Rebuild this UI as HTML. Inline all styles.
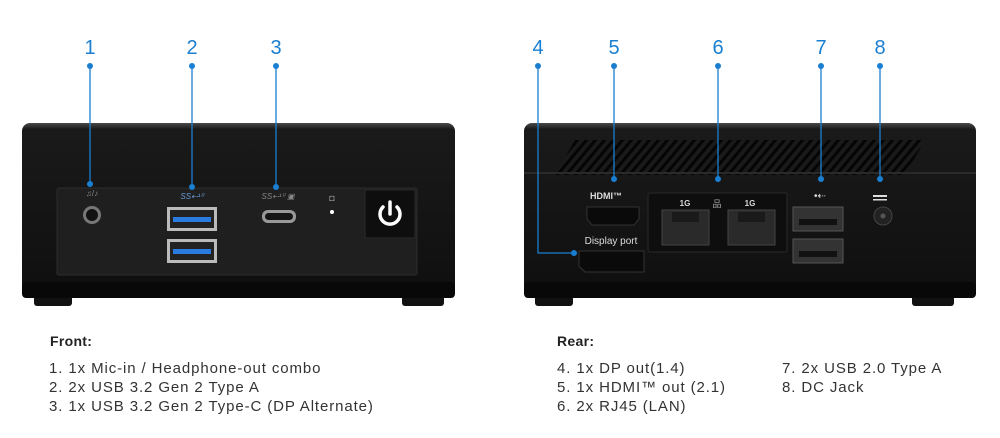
<!DOCTYPE html>
<html><head><meta charset="utf-8"><style>
body{margin:0;background:#fff;width:1000px;height:438px;overflow:hidden;position:relative;font-family:"Liberation Sans",sans-serif}
.t{position:absolute;color:#333;font-size:15px;letter-spacing:0.9px;line-height:19px;white-space:nowrap}
.h{font-size:14px;color:#222;letter-spacing:0.3px;font-weight:bold}
</style></head><body>
<svg width="1000" height="320" style="position:absolute;left:0;top:0">
<defs>
<linearGradient id="bd" x1="0" y1="0" x2="0" y2="1"><stop offset="0" stop-color="#4a4a4a"/><stop offset="0.035" stop-color="#1a1a1a"/><stop offset="1" stop-color="#0f0f0f"/></linearGradient>
<pattern id="vent" width="9" height="40" patternUnits="userSpaceOnUse" patternTransform="skewX(-40)"><rect width="9" height="40" fill="#1a1a1a"/><rect x="0" width="4" height="40" fill="#050505"/></pattern>
</defs>
<!-- FRONT -->
<rect x="34" y="290" width="38" height="16" rx="3" fill="#111"/>
<rect x="402" y="290" width="42" height="16" rx="3" fill="#111"/>
<rect x="22" y="123" width="433" height="175" rx="8" fill="url(#bd)"/>
<rect x="22" y="282" width="433" height="16" rx="4" fill="#080808"/>
<rect x="57" y="188" width="360" height="87" rx="2" fill="#1f1f1f" stroke="#2c2c2c"/>
<circle cx="92" cy="215" r="9" fill="#777"/><circle cx="92" cy="215" r="6" fill="#111"/>
<text x="92" y="196" fill="#888" font-size="8" text-anchor="middle">♫/♪</text>
<rect x="167" y="207" width="50" height="24" fill="#bbb"/><rect x="170" y="210" width="44" height="18" fill="#222"/><rect x="173" y="217" width="38" height="5" fill="#2a7be0"/>
<rect x="167" y="239" width="50" height="24" fill="#bbb"/><rect x="170" y="242" width="44" height="18" fill="#222"/><rect x="173" y="249" width="38" height="5" fill="#2a7be0"/>
<text x="192" y="199" fill="#6a9ed8" font-size="8" font-style="italic" text-anchor="middle">SS⇠¹⁰</text>
<text x="278" y="199" fill="#888" font-size="8" font-style="italic" text-anchor="middle">SS⇠¹⁰ ▣</text>
<rect x="262" y="210" width="34" height="13" rx="6" fill="#999"/><rect x="265" y="213" width="28" height="7" rx="3.5" fill="#151515"/>
<circle cx="332" cy="212" r="2" fill="#fff"/><text x="332" y="201" fill="#888" font-size="9" text-anchor="middle">◘</text>
<rect x="365" y="190" width="50" height="48" fill="#0e0e0e" stroke="#2a2a2a"/>
<path d="M383 207 A10 10 0 1 0 397 207" stroke="#fff" stroke-width="3.5" fill="none" stroke-linecap="round"/><line x1="390" y1="202" x2="390" y2="214" stroke="#fff" stroke-width="3.5" stroke-linecap="round"/>
<!-- REAR -->
<rect x="535" y="290" width="38" height="16" rx="3" fill="#111"/>
<rect x="912" y="290" width="42" height="16" rx="3" fill="#111"/>
<rect x="524" y="123" width="452" height="175" rx="8" fill="url(#bd)"/>
<rect x="524" y="282" width="452" height="16" rx="4" fill="#080808"/>
<polygon points="575,140 925,140 905,175 555,175" fill="url(#vent)"/>
<rect x="524" y="172" width="452" height="2" fill="#2a2a2a"/>
<text x="606" y="199" fill="#ddd" font-size="9" font-weight="bold" text-anchor="middle">HDMI™</text>
<path d="M587 207 H639 V219 L634 225 H592 L587 219 Z" fill="#0a0a0a" stroke="#333"/>
<text x="611" y="244" fill="#ddd" font-size="10" text-anchor="middle">Display port</text>
<path d="M579 251 H644 V272 H585 L579 266 Z" fill="#0a0a0a" stroke="#333"/>
<rect x="648" y="193" width="139" height="59" rx="2" fill="#0e0e0e" stroke="#2a2a2a"/>
<text x="685" y="206" fill="#ddd" font-size="8" font-weight="bold" text-anchor="middle">1G</text>
<text x="750" y="206" fill="#ddd" font-size="8" font-weight="bold" text-anchor="middle">1G</text>
<text x="717" y="207" fill="#aaa" font-size="9" text-anchor="middle">品</text>
<rect x="662" y="210" width="47" height="35" fill="#2a2a2a" stroke="#444"/><rect x="672" y="212" width="27" height="10" fill="#1a1a1a"/>
<rect x="728" y="210" width="47" height="35" fill="#2a2a2a" stroke="#444"/><rect x="738" y="212" width="27" height="10" fill="#1a1a1a"/>
<text x="820" y="199" fill="#ddd" font-size="10" text-anchor="middle">•⇠</text>
<rect x="793" y="207" width="50" height="24" fill="#333" stroke="#555"/><rect x="799" y="219" width="38" height="6" fill="#111"/>
<rect x="793" y="239" width="50" height="24" fill="#333" stroke="#555"/><rect x="799" y="251" width="38" height="6" fill="#111"/>
<rect x="873" y="195" width="14" height="2" fill="#ddd"/><rect x="873" y="199" width="14" height="1.5" fill="#ddd"/>
<circle cx="883" cy="216" r="9" fill="#222" stroke="#444"/><circle cx="883" cy="216" r="2.5" fill="#555"/>
<!-- leaders -->
<g stroke="#1a7fd0" stroke-width="1.3" fill="none">
<line x1="90" y1="66" x2="90" y2="184"/><line x1="192" y1="66" x2="192" y2="187"/><line x1="276" y1="66" x2="276" y2="187"/>
<polyline points="538,66 538,253 574,253"/><line x1="614" y1="66" x2="614" y2="179"/><line x1="718" y1="66" x2="718" y2="179"/><line x1="821" y1="66" x2="821" y2="179"/><line x1="880" y1="66" x2="880" y2="179"/>
</g>
<g fill="#1a7fd0">
<circle cx="90" cy="66" r="3"/><circle cx="90" cy="184" r="3"/><circle cx="192" cy="66" r="3"/><circle cx="192" cy="187" r="3"/><circle cx="276" cy="66" r="3"/><circle cx="276" cy="187" r="3"/>
<circle cx="538" cy="66" r="3"/><circle cx="574" cy="253" r="3"/><circle cx="614" cy="66" r="3"/><circle cx="614" cy="179" r="3"/><circle cx="718" cy="66" r="3"/><circle cx="718" cy="179" r="3"/><circle cx="821" cy="66" r="3"/><circle cx="821" cy="179" r="3"/><circle cx="880" cy="66" r="3"/><circle cx="880" cy="179" r="3"/>
</g>
<g fill="#1a7fd0" font-size="20" text-anchor="middle" font-family="Liberation Sans">
<text x="90" y="54">1</text><text x="192" y="54">2</text><text x="276" y="54">3</text><text x="538" y="54">4</text><text x="614" y="54">5</text><text x="718" y="54">6</text><text x="821" y="54">7</text><text x="880" y="54">8</text>
</g>
</svg>
<div class="t h" style="left:50px;top:332px">Front:</div>
<div class="t" style="left:49px;top:359px">1. 1x Mic-in / Headphone-out combo<br>2. 2x USB 3.2 Gen 2 Type A<br>3. 1x USB 3.2 Gen 2 Type-C (DP Alternate)</div>
<div class="t h" style="left:557px;top:332px">Rear:</div>
<div class="t" style="left:557px;top:359px">4. 1x DP out(1.4)<br>5. 1x HDMI™ out (2.1)<br>6. 2x RJ45 (LAN)</div>
<div class="t" style="left:782px;top:359px">7. 2x USB 2.0 Type A<br>8. DC Jack</div>
</body></html>
